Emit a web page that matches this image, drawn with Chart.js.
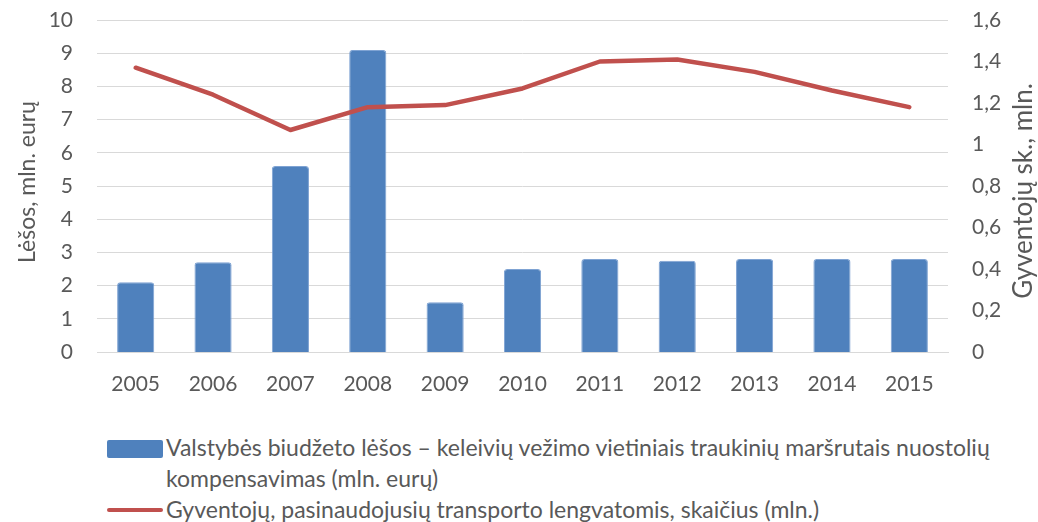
<!DOCTYPE html>
<html>
<head>
<meta charset="utf-8">
<script src="https://cdn.jsdelivr.net/npm/chart.js@4"></script>
<style>
  body { margin: 0; background: #fff; font-family: 'Lato', sans-serif; }
  #wrap { position: relative; width: 1038px; height: 412px; }
  #legend { position: absolute; left: 107px; top: 432px; color: #595959; font-size: 23px; line-height: 31px; }
  .item { position: relative; padding-left: 59px; }
  .box { position: absolute; left: 0; top: 8px; width: 56px; height: 18px; background: #4F81BD; border-radius: 2px; }
  .ln { position: absolute; left: 0; top: 14px; width: 56px; height: 4px; background: #C0504D; border-radius: 2px; }
</style>
</head>
<body>
<div id="wrap"><canvas id="chart"></canvas></div>
<div id="legend">
  <div class="item"><span class="box"></span>Valstybės biudžeto lėšos – keleivių vežimo vietiniais traukinių maršrutais nuostolių<br>kompensavimas (mln. eurų)</div>
  <div class="item"><span class="ln"></span>Gyventojų, pasinaudojusių transporto lengvatomis, skaičius (mln.)</div>
</div>
<script>
const years = ['2005', '2006', '2007', '2008', '2009', '2010', '2011', '2012', '2013', '2014', '2015'];
const budgetValues = [2.1, 2.7, 5.6, 9.1, 1.5, 2.5, 2.8, 2.75, 2.8, 2.8, 2.8];
const residentValues = [1.37, 1.24, 1.07, 1.18, 1.19, 1.27, 1.40, 1.41, 1.35, 1.26, 1.18];
const leftAxisTitle = 'Lėšos, mln. eurų';
const rightAxisTitle = 'Gyventojų sk., mln.';

const textColor = '#595959';
const gridColor = '#D9D9D9';
const fontFamily = 'Lato';

// both axis titles read bottom-to-top, drawn by hand so they sit where the reference has them
function drawVerticalText(ctx, text, x, y, size) {
  ctx.save();
  ctx.translate(x, y);
  ctx.rotate(-Math.PI / 2);
  ctx.font = size + 'px ' + fontFamily;
  ctx.fillStyle = textColor;
  ctx.textAlign = 'center';
  ctx.textBaseline = 'middle';
  ctx.fillText(text, 0, 0);
  ctx.restore();
}

const axisTitlesPlugin = {
  id: 'axisTitles',
  afterDraw(chart) {
    drawVerticalText(chart.ctx, leftAxisTitle, 28, 182, 23);
    drawVerticalText(chart.ctx, rightAxisTitle, 1024, 191, 26);
  }
};

const config = {
  data: {
    labels: years,
    datasets: [
      {
        type: 'line',
        data: residentValues,
        yAxisID: 'y1',
        borderColor: '#C0504D',
        borderWidth: 4.5,
        borderCapStyle: 'round',
        borderJoinStyle: 'round',
        pointRadius: 0,
        tension: 0,
        order: 0
      },
      {
        type: 'bar',
        data: budgetValues,
        yAxisID: 'y',
        backgroundColor: '#4F81BD',
        borderColor: '#7FA3D3',
        borderWidth: 1,
        borderRadius: 3,
        borderSkipped: false,
        barPercentage: 0.48,
        categoryPercentage: 1,
        base: -0.08,
        order: 1
      }
    ]
  },
  options: {
    responsive: true,
    maintainAspectRatio: false,
    animation: false,
    layout: { padding: { top: 20, left: 0, right: 0, bottom: 0 } },
    plugins: { legend: { display: false }, tooltip: { enabled: false } },
    scales: {
      x: {
        z: 1,
        grid: { display: false },
        border: { display: true, color: gridColor, width: 1 },
        ticks: { color: textColor, font: { family: fontFamily, size: 21 }, padding: 12 },
        afterFit(scale) { scale.height = 60; }
      },
      y: {
        position: 'left',
        min: 0,
        max: 10,
        ticks: { stepSize: 1, color: textColor, font: { family: fontFamily, size: 21 }, padding: 24 },
        grid: { color: gridColor, lineWidth: 1, drawTicks: false },
        border: { display: false },
        afterFit(scale) { scale.width = 97; scale.paddingTop = 0; scale.paddingBottom = 0; }
      },
      y1: {
        position: 'right',
        min: 0,
        max: 1.6,
        ticks: {
          stepSize: 0.2,
          color: textColor,
          font: { family: fontFamily, size: 21 },
          padding: 24,
          callback: v => String(Math.round(v * 10) / 10).replace('.', ',')
        },
        grid: { display: false, drawTicks: false },
        border: { display: false },
        afterFit(scale) { scale.width = 90; scale.paddingTop = 0; scale.paddingBottom = 0; }
      }
    }
  },
  plugins: [axisTitlesPlugin]
};

new Chart(document.getElementById('chart'), config);
</script>
</body>
</html>
